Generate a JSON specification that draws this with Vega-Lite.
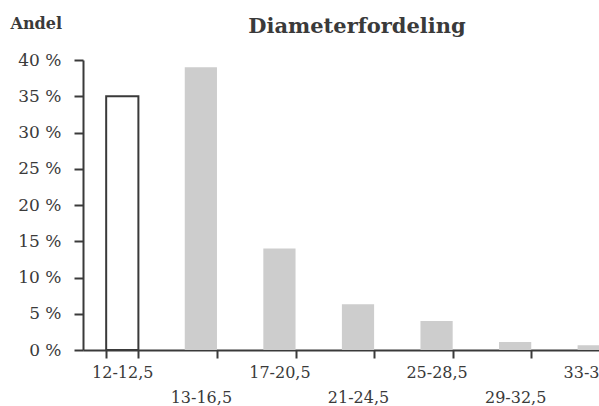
{
  "$schema": "https://vega.github.io/schema/vega-lite/v6.json",
  "width": 516,
  "height": 290,
  "autosize": "none",
  "padding": {"left": 83, "top": 60, "right": 0, "bottom": 56},
  "background": "white",
  "config": {"view": {"stroke": null}, "font": "DejaVu Serif"},
  "title": {
    "text": "Diameterfordeling",
    "font": "DejaVu Serif",
    "fontSize": 21,
    "fontWeight": "bold",
    "color": "#3a3a3a",
    "anchor": "middle",
    "frame": "group",
    "dx": 16,
    "baseline": "alphabetic",
    "offset": -39
  },
  "data": {
    "values": [
      {"diameter": "12-12,5", "andel": 35},
      {"diameter": "13-16,5", "andel": 39},
      {"diameter": "17-20,5", "andel": 14},
      {"diameter": "21-24,5", "andel": 6.3},
      {"diameter": "25-28,5", "andel": 4},
      {"diameter": "29-32,5", "andel": 1.1},
      {"diameter": "33-36,5", "andel": 0.65}
    ]
  },
  "mark": {"type": "bar", "strokeWidth": 2},
  "encoding": {
    "x": {
      "field": "diameter",
      "type": "nominal",
      "sort": null,
      "scale": {"range": [0, 550], "paddingInner": 0.59, "paddingOuter": 0.295},
      "axis": {
        "title": null,
        "tickBand": "extent",
        "labelAngle": 0,
        "labelExpr": "indexof(['13-16,5','21-24,5','29-32,5'], datum.value) >= 0 ? ['', datum.label] : datum.label",
        "labelLineHeight": 25,
        "labelBaseline": "top",
        "labelFontSize": 16,
        "labelColor": "#3a3a3a",
        "labelPadding": 6,
        "labelOverlap": false,
        "labelBound": false,
        "tickSize": 8,
        "tickWidth": 2,
        "tickColor": "#3a3a3a",
        "domainColor": "#3a3a3a",
        "domainWidth": 2
      }
    },
    "y": {
      "field": "andel",
      "type": "quantitative",
      "scale": {"domain": [0, 40]},
      "axis": {
        "title": "Andel",
        "titleAngle": 0,
        "titleAlign": "left",
        "titleBaseline": "alphabetic",
        "titleX": -73,
        "titleY": -32,
        "titleFont": "DejaVu Serif",
        "titleFontSize": 16,
        "titleFontWeight": "bold",
        "titleColor": "#3a3a3a",
        "values": [0, 5, 10, 15, 20, 25, 30, 35, 40],
        "labelExpr": "datum.value + ' %'",
        "labelFontSize": 17,
        "labelColor": "#3a3a3a",
        "labelPadding": 13,
        "labelFlush": false,
        "labelOverlap": false,
        "grid": false,
        "tickSize": 9,
        "tickWidth": 2,
        "tickColor": "#3a3a3a",
        "domainColor": "#3a3a3a",
        "domainWidth": 2
      }
    },
    "fill": {
      "condition": {"test": "datum.diameter == '12-12,5'", "value": "white"},
      "value": "#cdcdcd"
    },
    "stroke": {
      "condition": {"test": "datum.diameter == '12-12,5'", "value": "#3a3a3a"},
      "value": "transparent"
    }
  }
}
